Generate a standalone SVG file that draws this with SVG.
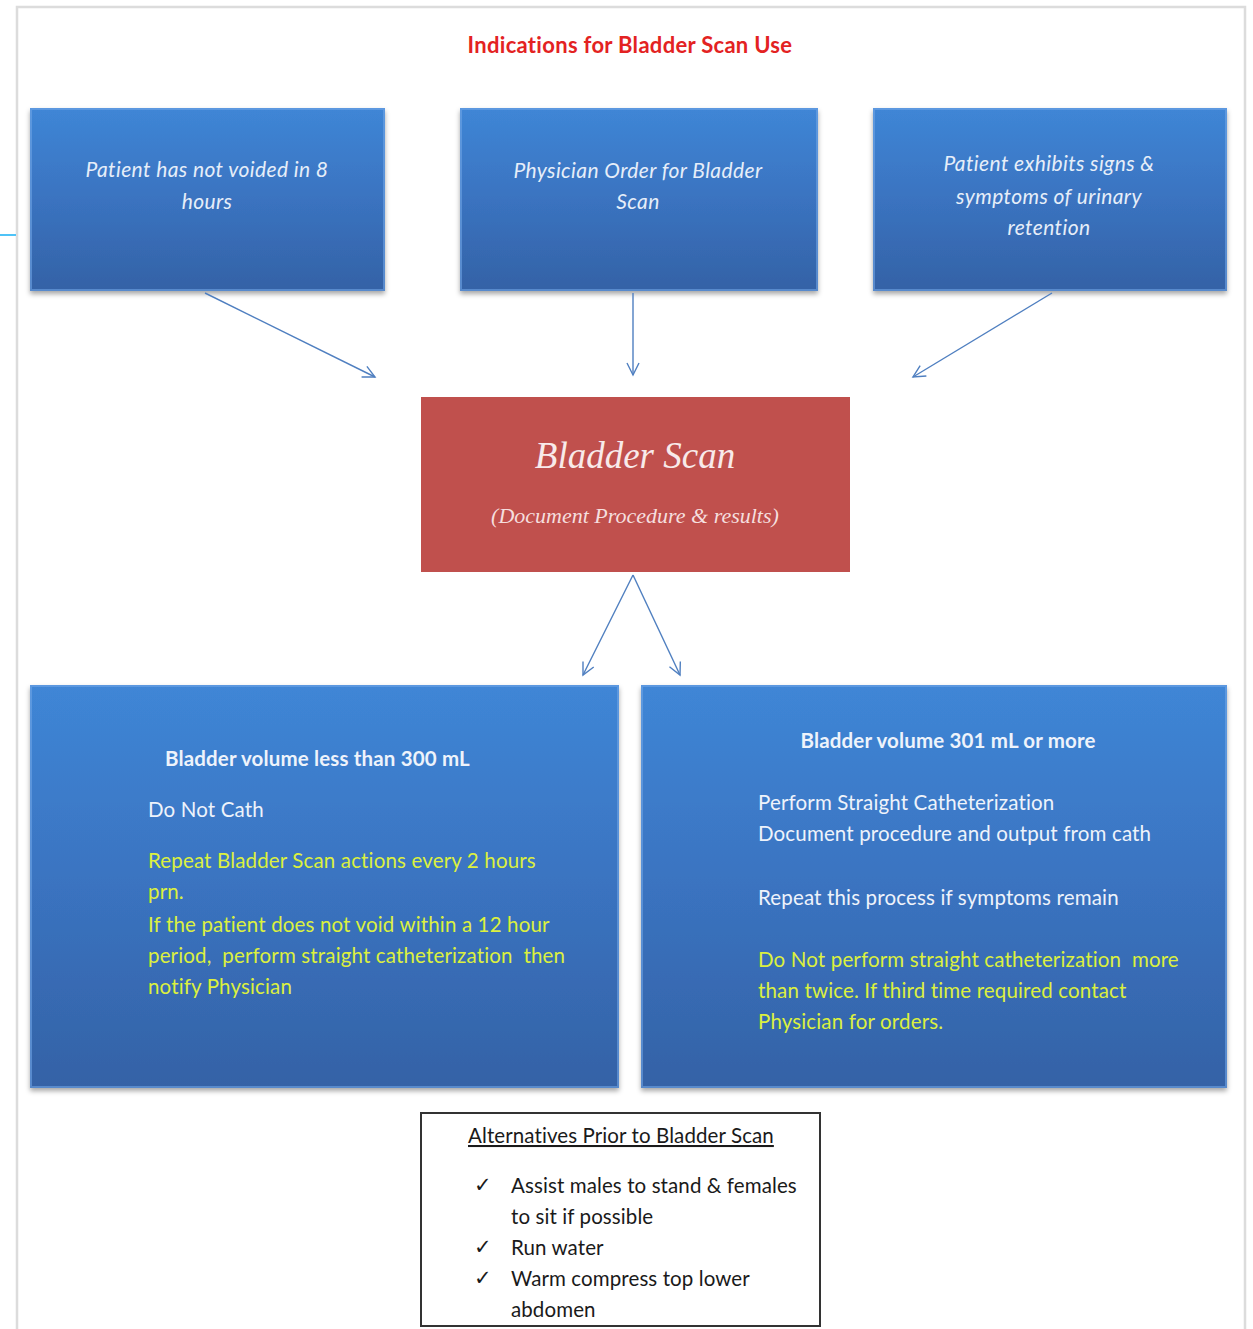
<svg xmlns="http://www.w3.org/2000/svg" width="1253" height="1329" viewBox="0 0 1253 1329">
<defs>
  <linearGradient id="blueGrad" x1="0" y1="0" x2="0" y2="1">
    <stop offset="0" stop-color="#3f86d6"/>
    <stop offset="0.5" stop-color="#3a73c0"/>
    <stop offset="1" stop-color="#3462a6"/>
  </linearGradient>
  <filter id="shadow" x="-5%" y="-5%" width="110%" height="115%">
    <feDropShadow dx="0" dy="3" stdDeviation="2.5" flood-color="#000" flood-opacity="0.35"/>
  </filter>
  <marker id="arrow" markerWidth="16" markerHeight="16" refX="13" refY="8" orient="auto" markerUnits="userSpaceOnUse">
    <path d="M1,2 L13,8 L1,14" fill="none" stroke="#4f7fc0" stroke-width="1.4"/>
  </marker>
</defs>
<style>
  .blue { fill: url(#blueGrad); filter: url(#shadow); }
  .bevel { fill: none; stroke: #6fa5e6; stroke-width: 2; stroke-opacity: 0.6; }
  .itl { font-family: Lato, "Liberation Sans", sans-serif; font-style: italic; font-size: 21px; letter-spacing: 0.4px; fill: #e6eef9; text-anchor: middle; }
  .body { font-family: Lato, "Liberation Sans", sans-serif; font-size: 20.5px; letter-spacing: 0.15px; fill: #eef3fb; }
  .bold { font-weight: bold; }
  .yel { fill: #dcf03e; }
  .alt { font-family: Lato, "Liberation Sans", sans-serif; font-size: 20.5px; letter-spacing: 0.1px; fill: #1a1a1a; }
  .conn line { stroke: #4f7fc0; stroke-width: 1.4; marker-end: url(#arrow); }
</style>
<rect width="1253" height="1329" fill="#ffffff"/>
<!-- page border -->
<path d="M17,1329 L17,7 L1245,7 L1245,1329" fill="none" stroke="#dcdcdc" stroke-width="2.5"/>
<line x1="0" y1="235" x2="16" y2="235" stroke="#4fc3f7" stroke-width="2"/>

<text x="630" y="53" font-family="Lato, 'Liberation Sans', sans-serif" font-weight="bold" font-size="22" letter-spacing="0.3" fill="#e32222" text-anchor="middle">Indications for Bladder Scan Use</text>

<g id="node-not-voided">
  <rect class="blue" x="30" y="108" width="355" height="183"/>
  <rect class="bevel" x="31" y="109" width="353" height="181"/>
  <text class="itl" x="207" y="177">Patient has not voided in 8</text>
  <text class="itl" x="207" y="209">hours</text>
</g>
<g id="node-physician-order">
  <rect class="blue" x="460" y="108" width="358" height="183"/>
  <rect class="bevel" x="461" y="109" width="356" height="181"/>
  <text class="itl" x="638" y="178">Physician Order for Bladder</text>
  <text class="itl" x="638" y="209">Scan</text>
</g>
<g id="node-signs-symptoms">
  <rect class="blue" x="873" y="108" width="354" height="183"/>
  <rect class="bevel" x="874" y="109" width="352" height="181"/>
  <text class="itl" x="1049" y="171">Patient exhibits signs &amp;</text>
  <text class="itl" x="1049" y="204">symptoms of urinary</text>
  <text class="itl" x="1049" y="235">retention</text>
</g>

<g id="node-bladder-scan">
  <rect x="421" y="397" width="429" height="175" fill="#c0504d"/>
  <text x="635" y="468" font-family="'Liberation Serif', serif" font-style="italic" font-size="37" fill="#f8eaea" text-anchor="middle">Bladder Scan</text>
  <text x="635" y="523" font-family="'Liberation Serif', serif" font-style="italic" font-size="22" fill="#f5dede" text-anchor="middle">(Document Procedure &amp; results)</text>
</g>

<g id="node-less-300">
  <rect class="blue" x="30" y="685" width="589" height="403"/>
  <rect class="bevel" x="31" y="686" width="587" height="401"/>
  <text class="body bold" x="165" y="766">Bladder volume less than 300 mL</text>
  <text class="body" x="148" y="817">Do Not Cath</text>
  <text class="body yel" x="148" y="868">Repeat Bladder Scan actions every 2 hours</text>
  <text class="body yel" x="148" y="899">prn.</text>
  <text class="body yel" x="148" y="932">If the patient does not void within a 12 hour</text>
  <text class="body yel" x="148" y="963" xml:space="preserve">period,  perform straight catheterization  then</text>
  <text class="body yel" x="148" y="994">notify Physician</text>
</g>

<g id="node-301-more">
  <rect class="blue" x="641" y="685" width="586" height="403"/>
  <rect class="bevel" x="642" y="686" width="584" height="401"/>
  <text class="body bold" x="948" y="748" text-anchor="middle">Bladder volume 301 mL or more</text>
  <text class="body" x="758" y="810">Perform Straight Catheterization</text>
  <text class="body" x="758" y="841">Document procedure and output from cath</text>
  <text class="body" x="758" y="905">Repeat this process if symptoms remain</text>
  <text class="body yel" x="758" y="967" xml:space="preserve">Do Not perform straight catheterization  more</text>
  <text class="body yel" x="758" y="998">than twice. If third time required contact</text>
  <text class="body yel" x="758" y="1029">Physician for orders.</text>
</g>

<g id="node-alternatives">
  <rect x="421" y="1113" width="399" height="213" fill="#ffffff" stroke="#333" stroke-width="2"/>
  <text class="alt" x="468" y="1143" text-decoration="underline">Alternatives Prior to Bladder Scan</text>
  <text class="alt" x="474" y="1192" font-family="'DejaVu Sans', sans-serif" font-size="17">✓</text>
  <text class="alt" x="511" y="1193">Assist males to stand &amp; females</text>
  <text class="alt" x="511" y="1224">to sit if possible</text>
  <text class="alt" x="474" y="1254" font-family="'DejaVu Sans', sans-serif" font-size="17">✓</text>
  <text class="alt" x="511" y="1255">Run water</text>
  <text class="alt" x="474" y="1285" font-family="'DejaVu Sans', sans-serif" font-size="17">✓</text>
  <text class="alt" x="511" y="1286">Warm compress top lower</text>
  <text class="alt" x="511" y="1317">abdomen</text>
</g>

<g id="connectors" class="conn">
  <line x1="205" y1="293" x2="375" y2="377"/>
  <line x1="633" y1="293" x2="633" y2="375"/>
  <line x1="1052" y1="293" x2="913" y2="377"/>
  <line x1="633" y1="575" x2="583" y2="675"/>
  <line x1="633" y1="575" x2="680" y2="675"/>
</g>
</svg>
